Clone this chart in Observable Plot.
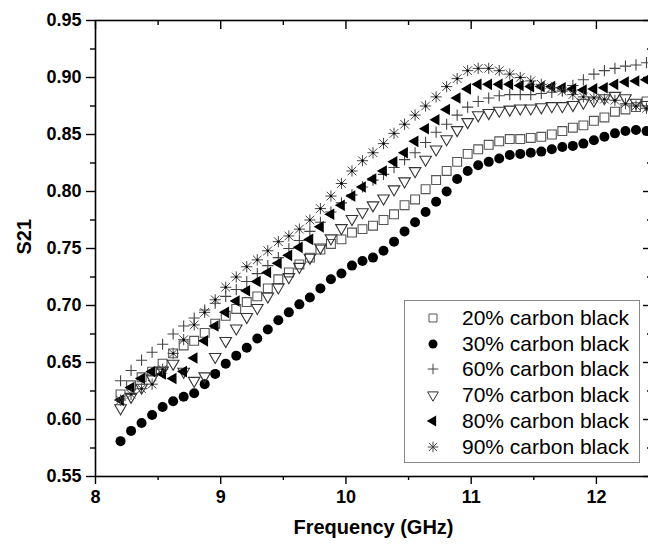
<!DOCTYPE html>
<html><head><meta charset="utf-8">
<script src="https://cdn.jsdelivr.net/npm/d3@7"></script>
<script src="https://cdn.jsdelivr.net/npm/@observablehq/plot@0.6"></script>
<style>
body{margin:0;background:#fff;}
#chart{position:relative;width:648px;height:549px;font-family:"Liberation Sans",Arial,sans-serif;color:#000;}
#legend{position:absolute;left:404px;top:300px;width:236px;height:163px;border:1px solid #888;background:#fff;box-sizing:border-box;padding-top:4px;}
.row{display:flex;align-items:center;height:25.8px;font-size:21px;}
.row svg{margin-left:20px;margin-right:21px;flex:none;}
</style></head><body><div id="chart"><div id="legend"></div></div>
<script>
const freq = [8.200,8.284,8.368,8.452,8.536,8.620,8.704,8.788,8.872,8.956,9.040,9.124,9.208,9.292,9.376,9.460,9.544,9.628,9.712,9.796,9.880,9.964,10.048,10.132,10.216,10.300,10.384,10.468,10.552,10.636,10.720,10.804,10.888,10.972,11.056,11.140,11.224,11.308,11.392,11.476,11.560,11.644,11.728,11.812,11.896,11.980,12.064,12.148,12.232,12.316,12.400];
const cb20 = [0.622,0.630,0.637,0.642,0.649,0.658,0.665,0.669,0.676,0.684,0.691,0.697,0.703,0.708,0.715,0.723,0.729,0.736,0.742,0.749,0.754,0.758,0.764,0.767,0.770,0.775,0.780,0.788,0.793,0.802,0.810,0.818,0.826,0.833,0.837,0.841,0.844,0.846,0.846,0.847,0.848,0.850,0.853,0.856,0.858,0.862,0.865,0.870,0.872,0.874,0.879];
const cb30 = [0.581,0.590,0.597,0.604,0.611,0.616,0.620,0.623,0.631,0.640,0.649,0.656,0.663,0.671,0.679,0.687,0.694,0.701,0.707,0.715,0.723,0.728,0.735,0.739,0.742,0.748,0.756,0.765,0.773,0.782,0.791,0.800,0.811,0.818,0.823,0.826,0.829,0.832,0.833,0.834,0.835,0.837,0.839,0.840,0.842,0.845,0.848,0.851,0.853,0.854,0.853];
const cb60 = [0.634,0.643,0.652,0.659,0.666,0.675,0.682,0.689,0.696,0.702,0.708,0.714,0.721,0.728,0.735,0.742,0.750,0.757,0.765,0.773,0.782,0.790,0.797,0.804,0.810,0.815,0.821,0.828,0.834,0.843,0.852,0.859,0.867,0.874,0.879,0.882,0.884,0.885,0.885,0.885,0.886,0.887,0.889,0.893,0.898,0.903,0.906,0.908,0.910,0.911,0.913];
const cb70 = [0.610,0.620,0.628,0.636,0.643,0.649,0.642,0.634,0.638,0.655,0.669,0.680,0.690,0.698,0.708,0.716,0.725,0.734,0.742,0.751,0.759,0.768,0.776,0.782,0.788,0.794,0.802,0.809,0.818,0.828,0.837,0.846,0.854,0.861,0.867,0.869,0.871,0.872,0.873,0.873,0.874,0.875,0.875,0.876,0.878,0.880,0.882,0.884,0.882,0.878,0.876];
const cb80 = [0.617,0.628,0.636,0.642,0.640,0.636,0.642,0.654,0.669,0.682,0.694,0.704,0.713,0.721,0.729,0.737,0.744,0.751,0.758,0.769,0.780,0.788,0.796,0.804,0.811,0.818,0.826,0.834,0.844,0.855,0.863,0.872,0.882,0.890,0.894,0.894,0.894,0.894,0.893,0.892,0.892,0.892,0.891,0.890,0.889,0.890,0.891,0.894,0.896,0.897,0.898];
const cb90 = [0.617,0.622,0.627,0.631,0.644,0.658,0.670,0.683,0.694,0.705,0.716,0.725,0.734,0.740,0.748,0.756,0.761,0.767,0.775,0.785,0.796,0.807,0.818,0.827,0.834,0.842,0.851,0.859,0.867,0.875,0.883,0.892,0.899,0.906,0.908,0.908,0.906,0.903,0.900,0.897,0.894,0.891,0.888,0.885,0.883,0.882,0.881,0.880,0.877,0.875,0.873];
const seriesNames = ["20% carbon black","30% carbon black","60% carbon black","70% carbon black","80% carbon black","90% carbon black"];
const yTicks = [0.55,0.60,0.65,0.70,0.75,0.80,0.85,0.90,0.95];
const yMinor = [0.575,0.625,0.675,0.725,0.775,0.825,0.875,0.925];
const xTicks = [8,9,10,11,12];
const xMinor = [8.5,9.5,10.5,11.5];

const rows = (vals) => freq.map((f, i) => ({f, s: vals[i]}));
const d20 = rows(cb20), d30 = rows(cb30), d60 = rows(cb60), d70 = rows(cb70), d80 = rows(cb80), d90 = rows(cb90);

const fmt = d3.format(".2f");
const axisStyle = {fontSize: 18, fontWeight: "bold", strokeWidth: 1.4};

const chart = Plot.plot({
  width: 648, height: 549,
  marginLeft: 95, marginRight: -3, marginTop: 20, marginBottom: 73,
  style: {background: "#fff", color: "#000", fontFamily: "'Liberation Sans', Arial, sans-serif"},
  x: {domain: [8, 12.44]},
  y: {domain: [0.55, 0.95]},
  marks: [
    Plot.axisY({anchor: "left", ticks: yTicks, tickSize: 9, tickPadding: 5, tickFormat: fmt, label: null, ...axisStyle}),
    Plot.axisY({anchor: "left", ticks: yMinor, tickSize: 5, tickFormat: () => "", label: null, strokeWidth: 1.4}),
    Plot.axisY({anchor: "right", ticks: yTicks, tickSize: -9, tickFormat: () => "", label: null, strokeWidth: 1.4}),
    Plot.axisY({anchor: "right", ticks: yMinor, tickSize: -5, tickFormat: () => "", label: null, strokeWidth: 1.4}),
    Plot.axisX({anchor: "bottom", ticks: xTicks, tickSize: 8, tickPadding: 6, tickFormat: d3.format("d"), label: null, ...axisStyle}),
    Plot.axisX({anchor: "bottom", ticks: xMinor, tickSize: 4, tickFormat: () => "", label: null, strokeWidth: 1.4}),
    Plot.axisX({anchor: "top", ticks: xTicks, tickSize: -8, tickFormat: () => "", label: null, strokeWidth: 1.4}),
    Plot.axisX({anchor: "top", ticks: xMinor, tickSize: -4, tickFormat: () => "", label: null, strokeWidth: 1.4}),
    Plot.frame({stroke: "#000", strokeWidth: 1.6}),
    Plot.text(["Frequency (GHz)"], {frameAnchor: "bottom", dy: 57, fontSize: 20, fontWeight: "bold"}),
    Plot.text(["S21"], {frameAnchor: "left", dx: -71, dy: 6, rotate: -90, fontSize: 20, fontWeight: "bold"}),
    Plot.dot(d20, {x: "f", y: "s", symbol: "square", r: 5, stroke: "#555", fill: "none", strokeWidth: 1.1}),
    Plot.dot(d30, {x: "f", y: "s", symbol: "circle", r: 5, fill: "#000", stroke: "none"}),
    Plot.dot(d60, {x: "f", y: "s", symbol: "plus", r: 3.7, stroke: "#444", strokeWidth: 1.1}),
    Plot.dot(d70, {x: "f", y: "s", symbol: "triangle", rotate: 180, r: 4.3, stroke: "#333", fill: "none", strokeWidth: 1.1}),
    Plot.dot(d80, {x: "f", y: "s", symbol: "triangle", rotate: -90, r: 4.3, fill: "#000", stroke: "none"}),
    Plot.dot(d90, {x: "f", y: "s", symbol: "plus", r: 3.7, stroke: "#444", strokeWidth: 1}),
    Plot.dot(d90, {x: "f", y: "s", symbol: "times", r: 4.0, stroke: "#444", strokeWidth: 1}),
    Plot.dot(d90, {x: "f", y: "s", symbol: "circle", r: 1.2, fill: "#000", stroke: "none"})
  ]
});
document.getElementById("chart").prepend(chart);

// Legend
const legendDefs = [
  [{type: d3.symbolSquare, r: 4.5, stroke: "#555", fill: "none", rot: 0}],
  [{type: d3.symbolCircle, r: 4.5, fill: "#000", rot: 0}],
  [{type: d3.symbolPlus, r: 3.5, stroke: "#444", fill: "none", rot: 0}],
  [{type: d3.symbolTriangle, r: 4, stroke: "#333", fill: "none", rot: 180}],
  [{type: d3.symbolTriangle, r: 4, fill: "#000", rot: -90}],
  [{type: d3.symbolPlus, r: 3.5, stroke: "#444", fill: "none", rot: 0}, {type: d3.symbolTimes, r: 3.8, stroke: "#444", fill: "none", rot: 0}]
];
const legend = d3.select("#legend");
seriesNames.forEach((name, i) => {
  const row = legend.append("div").attr("class", "row");
  const svg = row.append("svg").attr("width", 16).attr("height", 16);
  legendDefs[i].forEach(def => {
    svg.append("path")
      .attr("d", d3.symbol(def.type, Math.PI * def.r * def.r)())
      .attr("transform", `translate(8,8) rotate(${def.rot})`)
      .attr("fill", def.fill || "none")
      .attr("stroke", def.stroke || "none")
      .attr("stroke-width", 1);
  });
  row.append("span").text(name);
});
</script>
</body></html>
